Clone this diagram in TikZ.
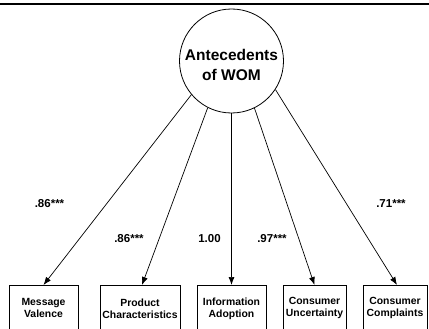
\documentclass[tikz,border=0pt]{standalone}
\usepackage{fontspec}
\setmainfont{Liberation Sans}
\usetikzlibrary{arrows.meta}
\begin{document}
\begin{tikzpicture}[x=1pt,y=-1pt,
  factor/.style={circle,draw,line width=0.8pt,minimum size=104pt,inner sep=0pt},
  factortext/.style={align=center,inner sep=0pt,font=\fontsize{15.5}{19.5}\selectfont\bfseries},
  indicator/.style={draw,line width=0.8pt,minimum height=46pt,inner sep=0pt,align=center,anchor=north,font=\fontsize{10.4}{12}\selectfont\bfseries},
  loading/.style={-{Latex[length=8pt,width=6pt]},line width=0.7pt},
  coef/.style={inner sep=0pt,font=\fontsize{11.5}{13}\selectfont\bfseries}]
\useasboundingbox (0,0) rectangle (429,329);
\clip (0,0) rectangle (429,329);
% heading rule
\draw[line width=2pt] (0,4.3) -- (429,4.3);
% latent factor
\node[factor] (f) at (231.5,61) {};
\node[factortext] (ft) at (231.5,65) {Antecedents\\of WOM};
% observed indicators
\node[indicator,minimum width=69pt] (b1) at (43.5,285) {Message\\Valence};
\node[indicator,minimum width=80pt] (b2) at (140,285) {Product\\Characteristics};
\node[indicator,minimum width=69pt] (b3) at (231.5,285) {Information\\Adoption};
\node[indicator,minimum width=63pt] (b4) at (314.5,285) {Consumer\\Uncertainty};
\node[indicator,minimum width=64pt] (b5) at (395,285) {Consumer\\Complaints};
% loadings
\draw[loading] (f.220.5) -- (b1.north);
\draw[loading] (f.243.6) -- ([xshift=2pt]b2.north);
\draw[loading] (f.270) -- (b3.north);
\draw[loading] (f.296) -- (b4.north);
\draw[loading] (f.327) -- ([xshift=2pt]b5.north);
% coefficients
\node[coef] (c1) at (49.5,203.5) {.86***};
\node[coef] (c2) at (129,238.5) {.86***};
\node[coef] (c3) at (209.5,238.5) {1.00};
\node[coef] (c4) at (272,238.5) {.97***};
\node[coef] (c5) at (391,203.5) {.71***};
\end{tikzpicture}
\end{document}
